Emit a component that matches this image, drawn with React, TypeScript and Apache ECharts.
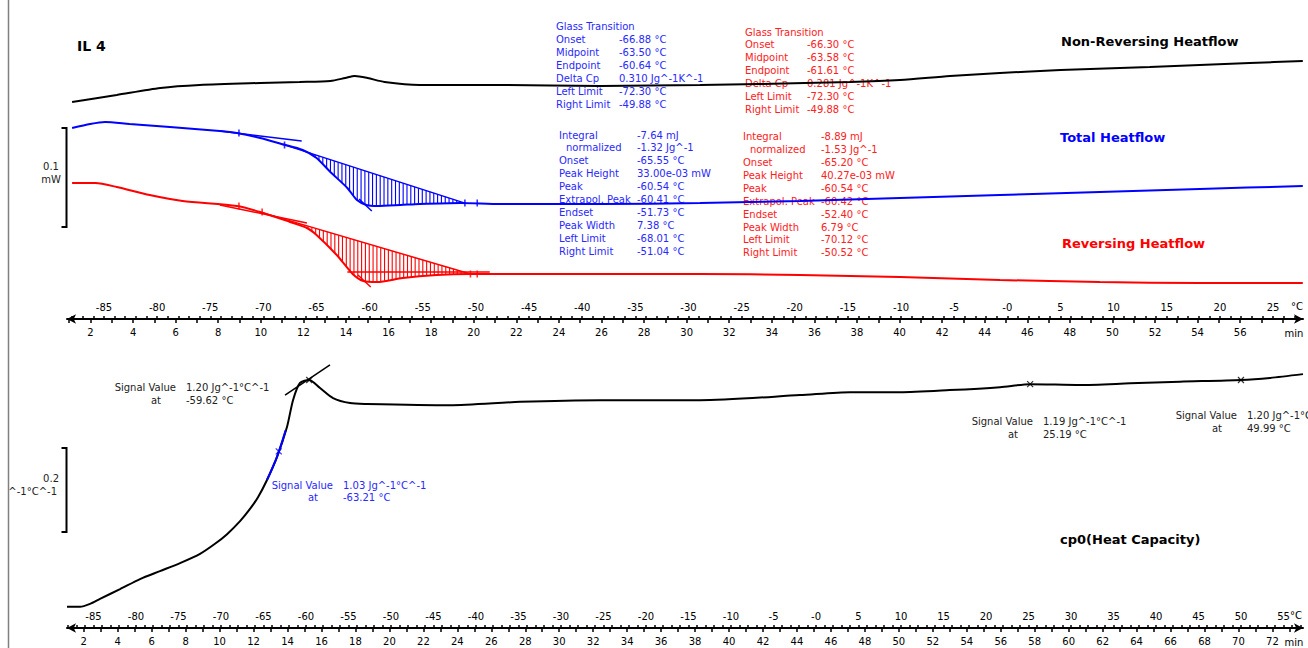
import React, { useEffect, useRef } from "react";
import * as echarts from "echarts";

// ---------- Top panel data (x: temperature °C, y: heat flow mW, curves as displayed with offsets) ----------
const nonRevT = [-88.0, -83.8, -79.7, -76.0, -70.3, -66.6, -63.7, -62.3, -61.4, -60.2, -58.6, -55.3, -47.7, -38.3, -28.9, -23.3, -14.8, -10.1, -5.4, -0.7, 5.0, 13.4, 22.8, 27.8];
const nonRevV = [0.188, 0.195, 0.202, 0.205, 0.207, 0.208, 0.209, 0.212, 0.214, 0.212, 0.208, 0.205, 0.205, 0.204, 0.205, 0.206, 0.208, 0.210, 0.214, 0.217, 0.220, 0.223, 0.227, 0.229];

const totalT = [-88.0, -86.3, -84.9, -82.6, -78.8, -74.1, -72.5, -70.3, -68.3, -66.3, -65.0, -63.7, -62.1, -61.2, -60.3, -59.3, -57.1, -55.3, -51.5, -47.7, -38.3, -28.9, -19.5, -10.1, -0.7, 8.7, 18.1, 27.8];
const totalV = [0.162, 0.166, 0.168, 0.166, 0.163, 0.159, 0.157, 0.152, 0.146, 0.140, 0.132, 0.118, 0.102, 0.090, 0.085, 0.084, 0.085, 0.086, 0.087, 0.086, 0.086, 0.087, 0.089, 0.092, 0.095, 0.098, 0.101, 0.104];

const revT = [-88.0, -85.8, -83.8, -80.7, -77.6, -72.5, -70.3, -67.5, -65.9, -65.0, -63.1, -61.6, -60.6, -59.3, -56.9, -53.7, -50.6, -47.7, -38.3, -28.9, -19.5, -10.1, -0.7, 8.7, 18.1, 27.8];
const revV = [0.107, 0.107, 0.103, 0.095, 0.089, 0.084, 0.078, 0.068, 0.062, 0.055, 0.035, 0.016, 0.009, 0.008, 0.012, 0.015, 0.016, 0.016, 0.016, 0.016, 0.015, 0.013, 0.010, 0.008, 0.007, 0.007];

// evaluation limits (°C)
const totalPeakLimits = [-68.01, -51.04];
const revPeakLimits = [-70.12, -50.52];
const totalLimitTicks = [[-72.3, 0.157], [-68.01, 0.145], [-51.04, 0.087], [-49.88, 0.087]];
const revLimitTicks = [[-72.3, 0.084], [-70.12, 0.078], [-50.52, 0.016], [-49.88, 0.016]];
const totalTangent = [[-74.1, 0.159], [-66.4, 0.149]];
const totalCross = [[-61.0, 0.091], [-59.8, 0.079]];
const revTangent = [[-74.1, 0.085], [-65.9, 0.067]];
const revCross = [[-61.1, 0.015], [-59.9, 0.003]];
const revRightBase = [[-62.1, 0.018], [-48.7, 0.018]];

// ---------- Bottom panel data (x: temperature °C, y: cp0 Jg^-1°C^-1) ----------
const cpT = [-88.12, -86.59, -85.41, -84.24, -81.88, -79.53, -77.18, -74.82, -72.47, -70.71, -69.29, -67.76, -66.59, -65.65, -64.59, -63.41, -62.24, -61.53, -60.71, -59.62, -58.35, -56.82, -54.82, -52.82, -43.06, -34.82, -25.41, -13.65, -1.88, 4.0, 9.88, 15.71, 21.65, 25.19, 31.06, 36.94, 42.82, 49.99, 53.41, 57.29];
const cpV = [0.660, 0.660, 0.667, 0.679, 0.702, 0.726, 0.745, 0.764, 0.786, 0.810, 0.833, 0.864, 0.893, 0.921, 0.962, 1.017, 1.088, 1.152, 1.193, 1.200, 1.181, 1.157, 1.145, 1.143, 1.140, 1.148, 1.152, 1.152, 1.164, 1.171, 1.171, 1.176, 1.183, 1.190, 1.188, 1.192, 1.196, 1.200, 1.205, 1.214];
const cpBlueSegT = [-64.59, -63.41, -62.4];
const cpBlueSegV = [0.962, 1.017, 1.080];
const cpPeakTangent = [[-62.47, 1.164], [-57.18, 1.236]];
const cpSignalBlack = [[-59.62, 1.20], [25.19, 1.19], [49.99, 1.20]];
const cpSignalBlue = [[-63.21, 1.03]];

// ---------- Axis tick labels ----------
const topTempLabels = [-85, -80, -75, -70, -65, -60, -55, -50, -45, -40, -35, -30, -25, -20, -15, -10, -5, 0, 5, 10, 15, 20, 25];
const topTimeLabels = [2, 4, 6, 8, 10, 12, 14, 16, 18, 20, 22, 24, 26, 28, 30, 32, 34, 36, 38, 40, 42, 44, 46, 48, 50, 52, 54, 56];
const botTempLabels = [-85, -80, -75, -70, -65, -60, -55, -50, -45, -40, -35, -30, -25, -20, -15, -10, -5, 0, 5, 10, 15, 20, 25, 30, 35, 40, 45, 50, 55];
const botTimeLabels = [2, 4, 6, 8, 10, 12, 14, 16, 18, 20, 22, 24, 26, 28, 30, 32, 34, 36, 38, 40, 42, 44, 46, 48, 50, 52, 54, 56, 58, 60, 62, 64, 66, 68, 70, 72];

// ---------- Annotation texts ----------
const gtBlueRows = [["Glass Transition", ""], ["Onset", "-66.88 °C"], ["Midpoint", "-63.50 °C"], ["Endpoint", "-60.64 °C"], ["Delta Cp", "0.310 Jg^-1K^-1"], ["Left Limit", "-72.30 °C"], ["Right Limit", "-49.88 °C"]];
const gtRedRows = [["Glass Transition", ""], ["Onset", "-66.30 °C"], ["Midpoint", "-63.58 °C"], ["Endpoint", "-61.61 °C"], ["Delta Cp", "0.281 Jg^-1K^-1"], ["Left Limit", "-72.30 °C"], ["Right Limit", "-49.88 °C"]];
const pkBlueRows = [["Integral", "-7.64 mJ"], ["normalized", "-1.32 Jg^-1"], ["Onset", "-65.55 °C"], ["Peak Height", "33.00e-03 mW"], ["Peak", "-60.54 °C"], ["Extrapol. Peak", "-60.41 °C"], ["Endset", "-51.73 °C"], ["Peak Width", "7.38 °C"], ["Left Limit", "-68.01 °C"], ["Right Limit", "-51.04 °C"]];
const pkRedRows = [["Integral", "-8.89 mJ"], ["normalized", "-1.53 Jg^-1"], ["Onset", "-65.20 °C"], ["Peak Height", "40.27e-03 mW"], ["Peak", "-60.54 °C"], ["Extrapol. Peak", "-60.42 °C"], ["Endset", "-52.40 °C"], ["Peak Width", "6.79 °C"], ["Left Limit", "-70.12 °C"], ["Right Limit", "-50.52 °C"]];

const BLUE = "#0000ff";
const RED = "#ff0000";
const BLUE_TXT = "#2828ff";
const RED_TXT = "#ff2020";
const FONT = '"DejaVu Sans", Verdana, sans-serif';

function interp(xs: number[], ys: number[], x: number) {
  for (let i = 0; i < xs.length - 1; i++) {
    if (x >= xs[i] && x <= xs[i + 1]) {
      const f = (x - xs[i]) / (xs[i + 1] - xs[i]);
      return ys[i] + f * (ys[i + 1] - ys[i]);
    }
  }
  return x < xs[0] ? ys[0] : ys[ys.length - 1];
}

function zip(xs: number[], ys: number[]) {
  return xs.map((x, i) => [x, ys[i]]);
}

function lineS(data: number[][], color: string, width: number, xi: number, yi: number, smooth = true) {
  return {
    type: "line", xAxisIndex: xi, yAxisIndex: yi, data, symbol: "none", silent: true,
    smooth: smooth ? 0.25 : false,
    lineStyle: { color, width }, z: 3,
  };
}

function hatch(xs: number[], ys: number[], lim: number[], color: string) {
  const [l, r] = lim;
  const b0 = interp(xs, ys, l), b1 = interp(xs, ys, r);
  const data: number[][] = [];
  const step = 0.36;
  for (let t = l; t <= r; t += step) data.push([t, interp(xs, ys, t)]);
  return [
    {
      type: "custom", xAxisIndex: 0, yAxisIndex: 0, data, silent: true, z: 2,
      encode: { x: 0, y: 1 },
      renderItem: (params: any, api: any) => {
        const t = api.value(0);
        const cv = api.value(1);
        const base = b0 + (b1 - b0) * (t - l) / (r - l);
        if (cv >= base) return { type: "group", children: [] };
        const p1 = api.coord([t, base]);
        const p2 = api.coord([t, cv]);
        return { type: "line", shape: { x1: p1[0], y1: p1[1], x2: p2[0], y2: p2[1] }, style: { stroke: color, lineWidth: 1.1 } };
      },
    },
    lineS([[l, b0], [r, b1]], color, 1.5, 0, 0, false),
  ];
}

function txt(x: number, y: number, text: string, fill: string, font: string, align = "left") {
  return {
    type: "text", x, y, z: 1,
    style: { text, fill, font, textAlign: align, align, textVerticalAlign: "middle", verticalAlign: "middle" },
  };
}

function block(rows: string[][], lx: number, vx: number, y0: number, dy: number, color: string) {
  const out: any[] = [];
  rows.forEach((r, i) => {
    const y = y0 + dy * i;
    out.push(txt(r[0] === "normalized" ? lx + 7 : lx, y, r[0], color, `10px ${FONT}`));
    if (r[1]) out.push(txt(vx, y, r[1], color, `10px ${FONT}`));
  });
  return out;
}

function signal(rx: number, vx: number, atx: number, y: number, val: string, at: string, color: string) {
  return [
    txt(rx, y, "Signal Value", color, `10px ${FONT}`, "right"),
    txt(vx, y, val, color, `10px ${FONT}`),
    txt(atx, y + 12.8, "at", color, `10px ${FONT}`, "center"),
    txt(vx, y + 12.8, at, color, `10px ${FONT}`),
  ];
}

function range(a: number, b: number, s: number) {
  const r: number[] = [];
  for (let v = a; v <= b + 1e-9; v += s) r.push(Math.round(v * 1000) / 1000);
  return r;
}

function tempAxis(grid: number, min: number, max: number, labels: number[], offset: number) {
  return {
    type: "value", gridIndex: grid, min, max, position: "bottom", offset,
    axisLine: { show: true, onZero: false, lineStyle: { color: "#000", width: 2 }, symbol: ["arrow", "arrow"], symbolSize: [7, 9] },
    axisTick: { show: true, inside: true, length: 3, lineStyle: { color: "#000", width: 1.5 }, customValues: range(Math.ceil(min), Math.floor(max), 1) },
    axisLabel: {
      show: true, inside: true, margin: 7, color: "#000", fontFamily: FONT, fontSize: 10,
      customValues: labels, formatter: (v: number) => (v === 0 ? "-0" : String(v)),
    },
    splitLine: { show: false },
  };
}

function timeAxis(grid: number, min: number, max: number, labels: number[], offset: number) {
  return {
    type: "value", gridIndex: grid, min, max, position: "bottom", offset,
    axisLine: { show: false, onZero: false },
    axisTick: { show: true, inside: false, length: 4, lineStyle: { color: "#000", width: 1.5 }, customValues: range(Math.ceil(min), Math.floor(max), 1) },
    axisLabel: { show: true, margin: 8, color: "#000", fontFamily: FONT, fontSize: 10, customValues: labels },
    splitLine: { show: false },
  };
}

export default function App() {
  const ref = useRef<HTMLDivElement>(null);
  useEffect(() => {
    if (!ref.current) return;
    const chart = echarts.init(ref.current, undefined, { renderer: "svg" });
    const xMark = "path://M0,0L10,10M10,0L0,10";
    const option: any = {
      animation: false,
      backgroundColor: "#ffffff",
      grid: [
        { left: 67, right: 5, top: 20, height: 270 },
        { left: 67, right: 5, top: 359, height: 252 },
      ],
      xAxis: [
        tempAxis(0, -88.48, 27.82, topTempLabels, 29),
        timeAxis(0, 0.896, 58.95, topTimeLabels, 29),
        tempAxis(1, -88.12, 57.29, botTempLabels, 17),
        timeAxis(1, 1.013, 73.8, botTimeLabels, 17),
      ],
      yAxis: [
        { type: "value", gridIndex: 0, min: 0, max: 0.27, show: false },
        { type: "value", gridIndex: 1, min: 0.65, max: 1.25, show: false },
      ],
      series: [
        lineS(zip(nonRevT, nonRevV), "#000", 2, 0, 0),
        ...hatch(totalT, totalV, totalPeakLimits, BLUE),
        ...hatch(revT, revV, revPeakLimits, RED),
        lineS(zip(totalT, totalV), BLUE, 2, 0, 0),
        lineS(zip(revT, revV), RED, 2, 0, 0),
        lineS(totalTangent, BLUE, 1.5, 0, 0, false),
        lineS(totalCross, BLUE, 1.5, 0, 0, false),
        lineS(revTangent, RED, 1.5, 0, 0, false),
        lineS(revCross, RED, 1.5, 0, 0, false),
        lineS(revRightBase, RED, 1.5, 0, 0, false),
        {
          type: "scatter", xAxisIndex: 0, yAxisIndex: 0, data: totalLimitTicks, symbol: "rect", symbolSize: [1.6, 7],
          itemStyle: { color: BLUE }, silent: true, z: 4,
        },
        {
          type: "scatter", xAxisIndex: 0, yAxisIndex: 0, data: revLimitTicks, symbol: "rect", symbolSize: [1.6, 7],
          itemStyle: { color: RED }, silent: true, z: 4,
        },
        lineS(zip(cpT, cpV), "#000", 2, 2, 1),
        lineS(zip(cpBlueSegT, cpBlueSegV), BLUE, 2, 2, 1),
        lineS(cpPeakTangent, "#000", 1.5, 2, 1, false),
        {
          type: "scatter", xAxisIndex: 2, yAxisIndex: 1, data: cpSignalBlack, symbol: xMark, symbolSize: 6,
          itemStyle: { color: "none", borderColor: "#000", borderWidth: 1.2 }, silent: true, z: 4,
        },
        {
          type: "scatter", xAxisIndex: 2, yAxisIndex: 1, data: cpSignalBlue, symbol: xMark, symbolSize: 6,
          itemStyle: { color: "none", borderColor: BLUE, borderWidth: 1.2 }, silent: true, z: 4,
        },
      ],
      graphic: [
        txt(77, 46, "IL 4", "#000", `bold 14px ${FONT}`),
        txt(1061, 41, "Non-Reversing Heatflow", "#000", `bold 13px ${FONT}`),
        txt(1060, 137, "Total Heatflow", BLUE, `bold 13px ${FONT}`),
        txt(1062, 243, "Reversing Heatflow", RED, `bold 13px ${FONT}`),
        txt(1060, 539, "cp0(Heat Capacity)", "#000", `bold 13px ${FONT}`),
        ...block(gtBlueRows, 556, 619, 26, 13, BLUE_TXT),
        ...block(gtRedRows, 745, 807, 32, 12.9, RED_TXT),
        ...block(pkBlueRows, 559, 637, 135, 12.9, BLUE_TXT),
        ...block(pkRedRows, 743, 821, 136.7, 12.9, RED_TXT),
        ...signal(176, 186, 156, 387.5, "1.20 Jg^-1°C^-1", "-59.62 °C", "#222"),
        ...signal(333, 343, 313, 485, "1.03 Jg^-1°C^-1", "-63.21 °C", BLUE_TXT),
        ...signal(1033, 1043, 1013, 421.7, "1.19 Jg^-1°C^-1", "25.19 °C", "#222"),
        ...signal(1237, 1247, 1217, 415.7, "1.20 Jg^-1°C^-1", "49.99 °C", "#222"),
        // scale bars
        { type: "polyline", shape: { points: [[61.5, 128], [66.5, 128], [66.5, 227], [61.5, 227]] }, style: { stroke: "#000", lineWidth: 2, fill: "none" } },
        txt(51, 166, "0.1", "#222", `10px ${FONT}`, "center"),
        txt(51, 179, "mW", "#222", `10px ${FONT}`, "center"),
        { type: "polyline", shape: { points: [[61.5, 448], [66.5, 448], [66.5, 532], [61.5, 532]] }, style: { stroke: "#000", lineWidth: 2, fill: "none" } },
        txt(59, 478, "0.2", "#222", `10px ${FONT}`, "right"),
        txt(57, 491, "Jg^-1°C^-1", "#222", `10px ${FONT}`, "right"),
        // axis units
        txt(1297, 306.5, "°C", "#000", `10px ${FONT}`, "center"),
        txt(1294, 333, "min", "#000", `10px ${FONT}`, "center"),
        txt(1296, 615.5, "°C", "#000", `10px ${FONT}`, "center"),
        txt(1294, 642, "min", "#000", `10px ${FONT}`, "center"),
        // left border
        { type: "rect", z: 50, shape: { x: 0, y: 0, width: 8, height: 648 }, style: { fill: "#fff" } },
        { type: "line", z: 51, shape: { x1: 8.5, y1: 0, x2: 8.5, y2: 648 }, style: { stroke: "#808080", lineWidth: 1.5 } },
      ],
    };
    chart.setOption(option);
    return () => chart.dispose();
  }, []);
  return <div ref={ref} style={{ position: "absolute", left: 0, top: 0, width: 1308, height: 648 }} />;
}
